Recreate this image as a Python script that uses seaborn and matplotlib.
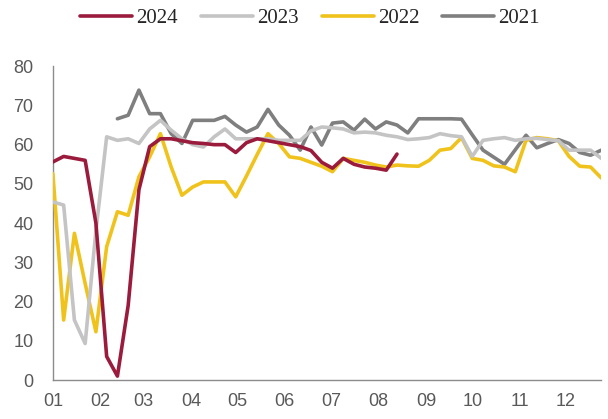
import matplotlib
matplotlib.use("Agg")
import matplotlib.pyplot as plt
import numpy as np
import pandas as pd
import seaborn as sns

# weekly index values, one list per year (week 0 = first week of January)
years = ["2024", "2023", "2022", "2021"]
colors = ["#9b1b3d", "#c4c4c4", "#f0c31c", "#7f7f7f"]

v2024 = [55.6, 57.0, 56.5, 56.0, 40.0, 6.0, 1.0, 19.0, 48.5, 59.5, 61.5, 61.5,
         61.0, 60.5, 60.3, 60.0, 60.0, 58.0, 60.5, 61.5, 61.0, 60.5, 60.0, 59.5,
         58.5, 55.5, 54.0, 56.5, 55.0, 54.3, 54.0, 53.5, 57.6]
v2023 = [45.4, 44.6, 15.3, 9.3, 38.0, 62.0, 61.1, 61.5, 60.3, 64.0, 66.2, 63.7,
         61.5, 60.0, 59.4, 62.0, 64.0, 61.5, 61.5, 61.5, 61.5, 61.1, 61.1, 61.1,
         63.5, 64.5, 64.3, 64.0, 63.0, 63.2, 63.0, 62.4, 62.0, 61.3, 61.5, 61.8,
         62.8, 62.3, 62.0, 57.0, 61.1, 61.5, 61.8, 61.1, 61.5, 61.6, 61.3, 61.0,
         58.6, 58.6, 58.6, 56.5]
v2022 = [52.6, 15.3, 37.4, 24.6, 12.3, 34.0, 42.9, 42.0, 51.8, 56.9, 62.8, 54.3,
         47.1, 49.2, 50.5, 50.5, 50.5, 46.7, 52.0, 57.5, 62.8, 60.3, 56.9, 56.5,
         55.5, 54.5, 53.1, 56.5, 56.0, 55.5, 54.8, 54.3, 54.8, 54.6, 54.5, 56.0,
         58.6, 59.0, 61.8, 56.5, 56.0, 54.6, 54.3, 53.1, 61.1, 61.8, 61.5, 61.0,
         57.0, 54.5, 54.3, 51.5]
v2021 = [np.nan] * 6 + [
         66.6, 67.5, 73.9, 67.9, 67.9, 62.8, 60.3, 66.2, 66.2, 66.2, 67.2, 65.0,
         63.2, 64.5, 69.0, 65.0, 62.4, 58.6, 64.5, 59.9, 65.5, 65.8, 63.7, 66.5,
         64.0, 65.8, 65.0, 63.0, 66.6, 66.6, 66.6, 66.6, 66.5, 62.5, 58.6, 56.8,
         55.0, 58.7, 62.4, 59.2, 60.3, 61.3, 60.3, 58.0, 57.3, 58.6]

month_labels = ["01", "02", "03", "04", "05", "06", "07", "08", "09", "10", "11", "12"]
month_start_day = [0, 31, 59, 90, 120, 151, 181, 212, 243, 273, 304, 334]

series = {"2024": v2024, "2023": v2023, "2022": v2022, "2021": v2021}
rows = []
for yr, vals in series.items():
    for wk, v in enumerate(vals):
        rows.append({"week": wk, "value": v, "year": yr})
df = pd.DataFrame(rows).dropna()

sns.set_style("white")
plt.rcParams["font.family"] = ["Liberation Sans", "DejaVu Sans"]

fig = plt.figure(figsize=(6.08, 4.19), dpi=100)
ax = fig.add_axes([0.087, 0.093, 0.902, 0.749])

sns.lineplot(data=df, x="week", y="value", hue="year", hue_order=years,
             palette=colors, linewidth=2.6, ax=ax, legend=True)

# newest year on top
for i, line in enumerate(ax.lines):
    line.set_zorder(10 - i)

ax.set_xlim(0, 51)
ax.set_ylim(0, 80)
ax.set_yticks(range(0, 81, 10))
ax.set_xticks([d / 7 for d in month_start_day])
ax.set_xticklabels(month_labels)
ax.set_xlabel("")
ax.set_ylabel("")

for side in ["top", "right"]:
    ax.spines[side].set_visible(False)
for side in ["left", "bottom"]:
    ax.spines[side].set_color("#8c8c8c")
    ax.spines[side].set_linewidth(1.0)

ax.tick_params(axis="y", direction="out", length=4, width=1, color="#8c8c8c",
               labelsize=13, labelcolor="#595959", pad=10)
ax.tick_params(axis="x", direction="inout", length=6, width=1, color="#8c8c8c",
               labelsize=13, labelcolor="#595959", pad=6)
ax.grid(False)

handles, labels = ax.get_legend_handles_labels()
ax.get_legend().remove()
fig.legend(handles, labels, loc="upper center", bbox_to_anchor=(0.51, 1.025),
           ncol=4, frameon=False, handlelength=2.5, handletextpad=0.2,
           columnspacing=1.1, prop={"family": "Liberation Serif", "size": 15})

fig.savefig("out.png", dpi=100)
